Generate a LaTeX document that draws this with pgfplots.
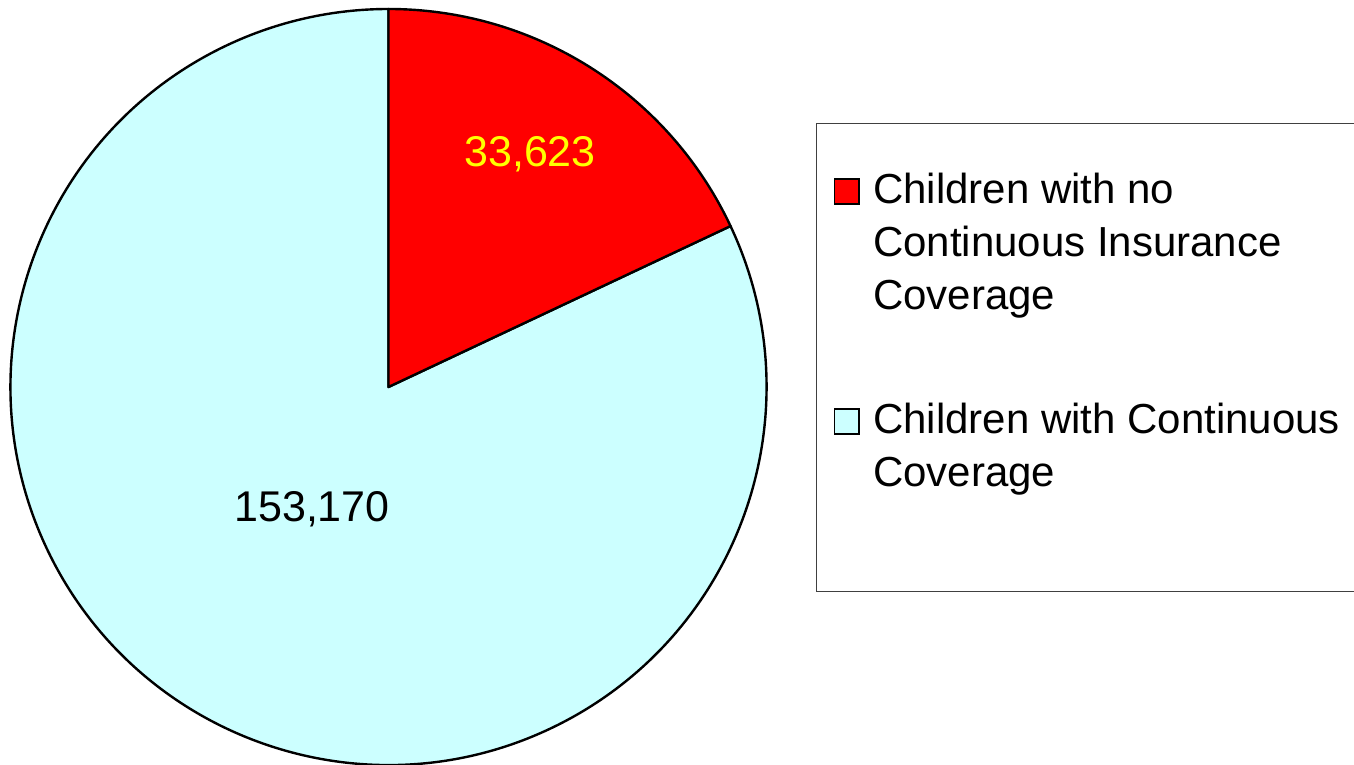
\documentclass[border=0pt]{standalone}
\usepackage{pgfplots}
\pgfplotsset{compat=1.18}
\usepackage{fontspec}
\setmainfont{Liberation Sans}
\definecolor{noins}{RGB}{255,0,0}
\definecolor{cont}{RGB}{204,255,255}
\definecolor{lab}{RGB}{255,255,0}
% data
\def\vA{33623}
\def\vB{153170}
\edef\angA{\fpeval{round(90-360*\vA/(\vA+\vB),4)}}
\begin{document}
\begin{tikzpicture}
\begin{axis}[name=ax,
  width=1354pt, height=765pt, scale only axis,
  xmin=0, xmax=1354, ymin=0, ymax=765,
  hide axis, clip=false]
% pie (1 axis unit = 1pt)
\filldraw[fill=cont, draw=black, line width=2.4pt, line join=round]
  (axis cs:388.5,378) -- ++(\angA:378pt) arc[start angle=\angA, end angle=-270, radius=378pt] -- cycle;
\filldraw[fill=noins, draw=black, line width=2.4pt, line join=round]
  (axis cs:388.5,378) -- ++(90:378pt) arc[start angle=90, end angle=\angA, radius=378pt] -- cycle;
% value labels
\node[anchor=base, text=lab, font=\fontsize{43}{52}\selectfont, inner sep=0pt] at (axis cs:530,598) {33,623};
\node[anchor=base, text=black, font=\fontsize{43}{52}\selectfont, inner sep=0pt] at (axis cs:312,243) {153,170};
% legend
\draw[draw=black!75, line width=1pt] (axis cs:816.5,641) rectangle (axis cs:1360,173);
\filldraw[fill=noins, draw=black, line width=1.6pt] (axis cs:834.5,586) rectangle (axis cs:859,561);
\filldraw[fill=cont, draw=black, line width=1.6pt] (axis cs:834.5,356) rectangle (axis cs:859,331);
\begin{scope}[every node/.style={anchor=base west, inner sep=0pt, font=\fontsize{42}{52}\selectfont}]
\node at (axis cs:873,561) {Children with no};
\node at (axis cs:873,508) {Continuous Insurance};
\node at (axis cs:873,455) {Coverage};
\node at (axis cs:873,331) {Children with Continuous};
\node at (axis cs:873,278) {Coverage};
\end{scope}
\end{axis}
\pgfresetboundingbox
\path[use as bounding box] (ax.south west) rectangle (ax.north east);
\end{tikzpicture}
\end{document}
